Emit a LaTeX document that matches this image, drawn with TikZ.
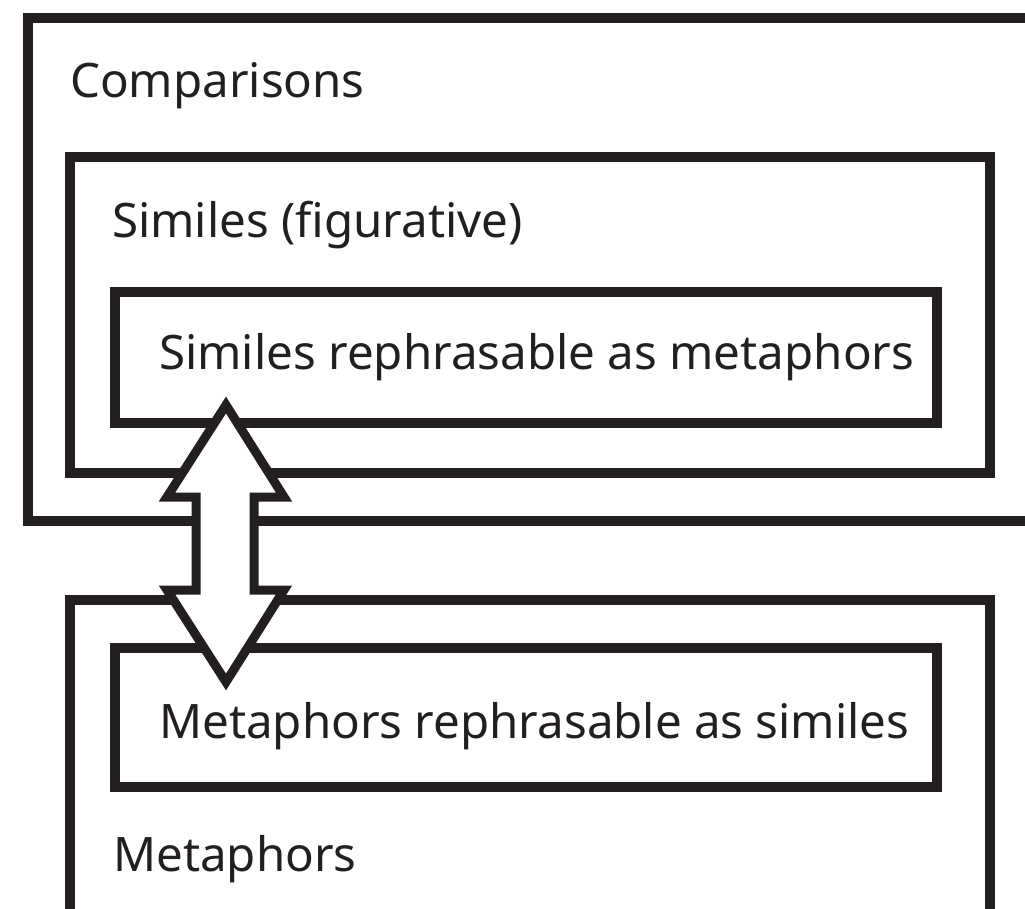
\documentclass[tikz,border=0pt]{standalone}
\usepackage{fontspec}
\setmainfont{Noto Sans}
\definecolor{ink}{HTML}{231F20}
\tikzset{
  boxline/.style={draw=ink, line width=9.5pt, line join=miter},
  lbl/.style={anchor=base west, inner sep=0pt, text=ink, font=\fontsize{47.5}{52}\selectfont},
  dblarrow/.style={draw=ink, fill=white, line width=9pt, line join=miter, miter limit=10},
}
\begin{document}
\begin{tikzpicture}[x=1pt,y=-1pt]
\useasboundingbox (0,0) rectangle (1025,909);
\clip (0,0) rectangle (1025,909);
% Comparisons box (open on the right)
\draw[boxline] (1040,18) -- (28,18) -- (28,521) -- (1040,521);
% Similes box
\draw[boxline] (70,157) rectangle (990,473);
% Similes rephrasable box
\draw[boxline] (115,292) rectangle (937,423);
% Metaphors box (open at the bottom)
\draw[boxline] (70,930) -- (70,600) -- (990,600) -- (990,930);
% Metaphors rephrasable box
\draw[boxline] (115,648) rectangle (937,787);
% labels
\node[lbl] (comp) at (70,98) {Comparisons};
\node[lbl] (sim) at (112,238) {Similes (figurative)};
\node[lbl] (simr) at (159,369) {Similes rephrasable as metaphors};
\node[lbl] (metr) at (159,738) {Metaphors rephrasable as similes};
\node[lbl] (met) at (113,871) {Metaphors};
% double arrow
\draw[dblarrow] (226,405) -- (284,497) -- (254,497) -- (254,590) -- (284,590)
  -- (226,682) -- (167,590) -- (196,590) -- (196,497) -- (167,497) -- cycle;
\end{tikzpicture}
\end{document}
